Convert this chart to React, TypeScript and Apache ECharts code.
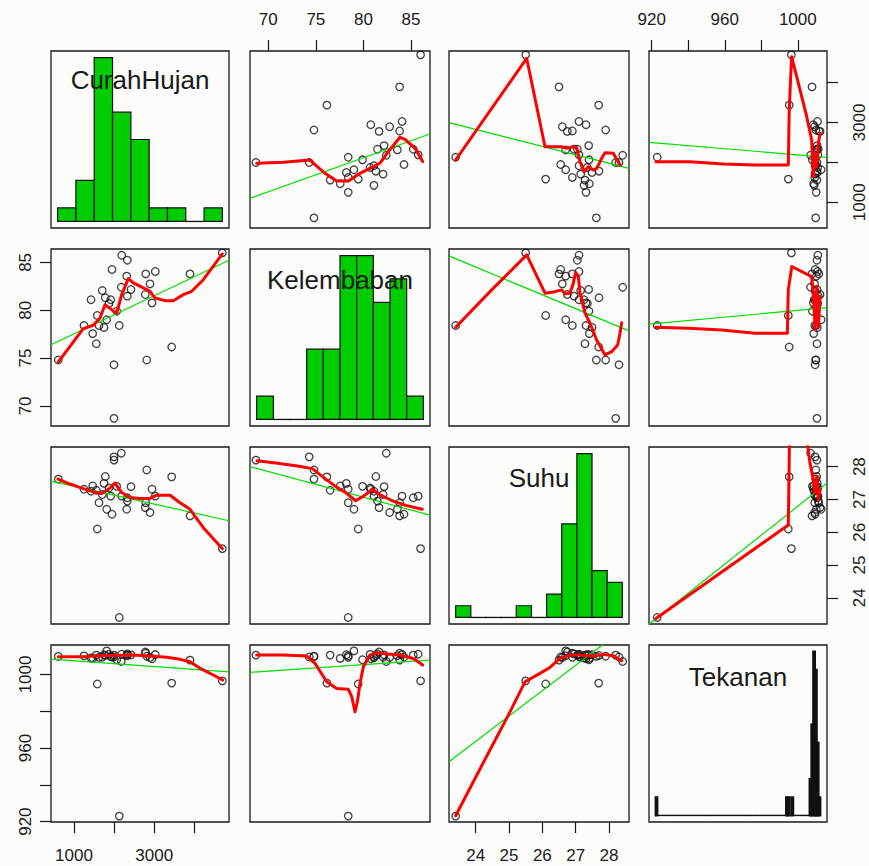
import React, { useEffect, useRef } from "react";
import * as echarts from "echarts";

// ---------------- data (33 observations) ----------------
const varNames = ["CurahHujan", "Kelembaban", "Suhu", "Tekanan"];

const CurahHujan = [608, 2189, 2329, 1947, 2314, 2788, 3027, 3893, 4698, 2895, 2179, 2421, 1705, 2329, 2778, 1424, 1780, 1915, 2945, 1873, 2065, 1581, 1815, 1249, 1623, 2129, 1748, 1466, 1556, 3436, 2813, 1997, 1997];
const Kelembaban = [74.8, 85.75, 85.23, 84.26, 83.56, 83.8, 84.05, 83.8, 86.0, 82.75, 82.4, 82.17, 82.06, 81.47, 81.64, 81.1, 81.3, 81.1, 80.77, 80.7, 79.9, 79.45, 79.0, 78.4, 78.4, 78.4, 78.2, 77.56, 76.5, 76.16, 74.8, 74.3, 68.7];
const Suhu = [27.62, 27.1, 27.05, 26.55, 26.7, 26.9, 27.1, 26.5, 25.5, 26.6, 28.41, 27.39, 27.15, 26.95, 26.75, 27.25, 27.7, 27.1, 27.31, 27.35, 27.4, 26.1, 26.7, 27.31, 26.9, 23.4, 27.49, 27.41, 27.28, 27.69, 27.9, 28.3, 28.2];
const Tekanan = [1009.8, 1011.0, 1010.5, 1009.5, 1010.2, 1011.5, 1010.8, 1007.8, 996.5, 1009.2, 1007.0, 1010.6, 1009.4, 1011.2, 1012.2, 1009.0, 1010.3, 1009.6, 1008.5, 1010.9, 1008.0, 994.8, 1012.8, 1010.1, 1009.3, 923.0, 1010.7, 1008.7, 1010.5, 995.3, 1009.9, 1009.5, 1010.5];

// histograms (breaks + counts)
const chHistBreaks = [500, 1000, 1500, 2000, 2500, 3000, 3500, 4000, 4500, 5000];
const chHistCounts = [1, 3, 12, 8, 6, 1, 1, 0, 1];
const kHistBreaks = [68, 70, 72, 74, 76, 78, 80, 82, 84, 86, 88];
const kHistCounts = [1, 0, 0, 3, 3, 7, 7, 5, 6, 1];
const sHistBreaks = [23, 23.5, 24, 24.5, 25, 25.5, 26, 26.5, 27, 27.5, 28, 28.5];
const sHistCounts = [1, 0, 0, 0, 1, 0, 2, 8, 14, 4, 3];
const tHistFirstBreak = 922;
const tHistLastBreak = 1013;
const tHistNonZero = [[922, 1], [994, 1], [995, 1], [997, 1], [1007, 2], [1008, 5], [1009, 9], [1010, 8], [1011, 4], [1012, 1]];

// axis ranges (x direction / y direction)
const xAxisRange = [[426, 4865], [68.08, 86.99], [23.2, 28.6], [918.5, 1016.0]];
const yAxisRange = [[355, 4794], [67.9, 86.4], [23.2, 28.6], [919.8, 1016.0]];

const tickValues = [[1000, 2000, 3000, 4000], [70, 75, 80, 85], [24, 25, 26, 27, 28], [920, 940, 960, 980, 1000]];
const labelValues = [[1000, 3000], [70, 75, 80, 85], [24, 25, 26, 27, 28], [920, 960, 1000]];

// smoother (red) lines, [x, y] per panel "row-col"
const smooth12 = [[68.78, 1978], [71.58, 2003], [74.38, 2060], [75.96, 1727], [77.18, 1534], [78.41, 1534], [79.63, 1727], [81.03, 1893], [81.73, 1978], [82.6, 2269], [83.84, 2630], [84.37, 2580], [85.42, 2354], [86.22, 2020]];
const smooth13 = [[23.4, 2060], [25.53, 4611], [26.08, 2394], [26.58, 2394], [26.73, 2352], [26.93, 2394], [27.03, 2352], [27.13, 2018], [27.25, 1767], [27.38, 1893], [27.53, 1810], [27.63, 1852], [27.78, 2103], [27.88, 2243], [28.13, 2227], [28.33, 1935]];
const smooth14 = [[922.3, 2018], [940.9, 2018], [959.2, 1960], [976.5, 1935], [994.8, 1935], [995.3, 3314], [996.6, 4651], [999.4, 4150], [1004.9, 3146], [1007.6, 2562], [1008.5, 1642], [1009.4, 2228], [1010.4, 1892], [1011.3, 2479], [1012.2, 2730]];
const smooth21 = [[608, 74.59], [900, 76.23], [1232, 78.07], [1481, 78.43], [1648, 79.19], [1773, 80.58], [1940, 80.06], [2064, 79.71], [2189, 81.63], [2354, 83.3], [2479, 82.85], [2728, 82.33], [2895, 81.98], [3020, 81.28], [3269, 81.0], [3477, 81.0], [3726, 81.63], [3935, 81.98], [4224, 83.19], [4698, 85.88]];
const smooth23 = [[23.4, 78.22], [24.48, 82.13], [25.53, 85.79], [26.08, 81.78], [26.38, 81.94], [26.58, 82.13], [26.68, 81.71], [26.83, 81.78], [26.93, 82.83], [27.0, 83.94], [27.08, 83.52], [27.13, 81.78], [27.28, 79.69], [27.43, 78.64], [27.63, 76.89], [27.88, 75.33], [28.08, 75.67], [28.26, 76.37], [28.33, 77.6], [28.38, 78.7]];
const smooth24 = [[922.3, 78.22], [940.0, 78.12], [958.3, 77.94], [976.6, 77.6], [994.3, 77.6], [994.8, 82.13], [996.7, 84.57], [1007.6, 83.52], [1008.6, 81.43], [1009.5, 77.94], [1010.4, 82.47], [1011.3, 78.29], [1012.2, 81.43]];
const smooth31 = [[601, 27.62], [900, 27.47], [1232, 27.33], [1481, 27.23], [1690, 27.18], [1856, 27.31], [2023, 27.5], [2189, 27.21], [2396, 27.06], [2645, 27.03], [2895, 27.03], [3062, 27.13], [3394, 27.13], [3643, 26.9], [3893, 26.7], [4225, 26.14], [4698, 25.5]];
const smooth32 = [[68.82, 28.18], [70.78, 28.11], [73.23, 28.01], [74.63, 27.94], [76.04, 27.62], [77.25, 27.36], [78.13, 27.21], [79.18, 26.96], [80.06, 27.11], [80.93, 27.31], [81.81, 27.13], [83.03, 26.96], [84.44, 26.82], [86.18, 26.7]];
const smooth34 = [[922.3, 23.37], [994.8, 26.22], [995.4, 28.6], [1000, 31], [1005.5, 28.6], [1006.7, 28.1], [1008.5, 27.6], [1009.4, 27.2], [1010.4, 27.7], [1011.3, 27.0], [1012.2, 27.3]];
const smooth41 = [[608, 1009.6], [1232, 1009.6], [1648, 1010.2], [2479, 1010.6], [2895, 1010.0], [3312, 1009.3], [3643, 1008.2], [3893, 1006.9], [4142, 1003.3], [4474, 999.7], [4708, 997.0]];
const smooth42 = [[68.78, 1010.5], [71.58, 1010.5], [74.04, 1010.0], [74.91, 1006.0], [76.14, 996.0], [77.19, 992.4], [78.41, 991.9], [78.77, 987.9], [79.11, 979.7], [79.36, 985.2], [79.64, 995.2], [79.99, 1004.2], [80.69, 1010.5], [81.4, 1011.8], [82.45, 1011.1], [83.84, 1010.5], [85.24, 1008.7], [86.22, 1005.1]];
const smooth43 = [[23.4, 923.2], [23.93, 941.7], [24.48, 960.7], [24.98, 977.9], [25.48, 996.0], [25.93, 1000.6], [26.23, 1003.8], [26.53, 1008.7], [26.83, 1010.5], [27.13, 1010.5], [27.43, 1010.0], [27.63, 1010.1], [27.83, 1010.9], [28.13, 1010.1], [28.38, 1007.4]];

// regression (green) lines, endpoints per panel
const reg12 = [[68.08, 1100], [86.99, 2713]];
const reg13 = [[23.2, 2996], [28.6, 1852]];
const reg14 = [[918.5, 2504], [1016, 2128]];
const reg21 = [[426, 76.4], [4865, 85.23]];
const reg23 = [[23.2, 85.68], [28.6, 77.84]];
const reg24 = [[918.5, 78.54], [1016, 80.27]];
const reg31 = [[426, 27.56], [4865, 26.35]];
const reg32 = [[68.08, 28.0], [86.99, 26.52]];
const reg34 = [[918.5, 23.19], [1016, 27.5]];
const reg41 = [[426, 1008.3], [4865, 1001.4]];
const reg42 = [[68.08, 1001.1], [86.99, 1007.8]];
const reg43 = [[23.2, 952.6], [28.6, 1027]];

// ---------------- layout ----------------
const colLeft = [51, 250, 449, 649];
const colWidth = [178, 180, 180, 178];
const rowTop = [51, 249, 447, 645];
const rowHeight = 177;
const nameOffset = [29, 31, 31, 31.5];

const INK = "#1a1a1a";
const FONT = "Liberation Sans";

function buildOption() {
  const vars = [CurahHujan, Kelembaban, Suhu, Tekanan];
  const tCounts: number[] = [];
  const tBreaks: number[] = [];
  for (let b = tHistFirstBreak; b <= tHistLastBreak; b++) tBreaks.push(b);
  for (let i = 0; i < tBreaks.length - 1; i++) {
    const hit = tHistNonZero.find((d) => d[0] === tBreaks[i]);
    tCounts.push(hit ? hit[1] : 0);
  }
  const hists = [
    { breaks: chHistBreaks, counts: chHistCounts },
    { breaks: kHistBreaks, counts: kHistCounts },
    { breaks: sHistBreaks, counts: sHistCounts },
    { breaks: tBreaks, counts: tCounts },
  ];
  const smooth: Record<string, number[][]> = {
    "0-1": smooth12, "0-2": smooth13, "0-3": smooth14,
    "1-0": smooth21, "1-2": smooth23, "1-3": smooth24,
    "2-0": smooth31, "2-1": smooth32, "2-3": smooth34,
    "3-0": smooth41, "3-1": smooth42, "3-2": smooth43,
  };
  const reg: Record<string, number[][]> = {
    "0-1": reg12, "0-2": reg13, "0-3": reg14,
    "1-0": reg21, "1-2": reg23, "1-3": reg24,
    "2-0": reg31, "2-1": reg32, "2-3": reg34,
    "3-0": reg41, "3-1": reg42, "3-2": reg43,
  };

  const grids: any[] = [];
  const xAxes: any[] = [];
  const yAxes: any[] = [];
  const series: any[] = [];
  const fmt = (v: number) => String(v);

  for (let r = 0; r < 4; r++) {
    for (let c = 0; c < 4; c++) {
      const g = r * 4 + c;
      grids.push({
        left: colLeft[c], top: rowTop[r], width: colWidth[c], height: rowHeight,
        show: true, borderColor: INK, borderWidth: 1.3, backgroundColor: "rgba(0,0,0,0)",
      });
      if (r === c) {
        const { breaks, counts } = hists[r];
        const span = breaks[breaks.length - 1] - breaks[0];
        const maxC = Math.max(...counts);
        const narrow = breaks.length > 40;
        xAxes.push({ gridIndex: g, type: "value", show: false, min: breaks[0] - 0.04 * span, max: breaks[breaks.length - 1] + 0.04 * span });
        yAxes.push({ gridIndex: g, type: "value", show: false, min: -0.04 * maxC, max: 1.04 * maxC });
        series.push({
          type: "custom", xAxisIndex: g, yAxisIndex: g,
          data: counts.map((n, i) => [breaks[i], breaks[i + 1], n]),
          encode: { x: [0, 1], y: 2 },
          renderItem: (params: any, api: any) => {
            const p0 = api.coord([api.value(0), api.value(2)]);
            const p1 = api.coord([api.value(1), 0]);
            if (api.value(2) === 0) {
              return { type: "line", shape: { x1: p0[0] - 0.5, y1: p1[1], x2: p1[0] + 0.5, y2: p1[1] }, style: { stroke: "#111", lineWidth: 1.3 } };
            }
            return {
              type: "rect",
              shape: { x: p0[0], y: p0[1], width: p1[0] - p0[0], height: p1[1] - p0[1] },
              style: { fill: "#00cd00", stroke: "#111", lineWidth: narrow ? 2 : 1.2 },
            };
          },
        });
        continue;
      }
      const showTop = r === 0 && (c === 1 || c === 3);
      const showBottom = r === 3 && (c === 0 || c === 2);
      const showLeft = c === 0 && (r === 1 || r === 3);
      const showRight = c === 3 && (r === 0 || r === 2);
      const showX = showTop || showBottom;
      const showY = showLeft || showRight;
      xAxes.push({
        gridIndex: g, type: "value", show: showX,
        min: xAxisRange[c][0], max: xAxisRange[c][1],
        position: r === 0 ? "top" : "bottom",
        axisLine: { show: false }, splitLine: { show: false },
        axisTick: { show: showX, length: 11, customValues: tickValues[c], lineStyle: { color: INK, width: 1.2 } },
        axisLabel: { show: showX, customValues: labelValues[c], formatter: fmt, margin: showTop ? 23 : 25, fontSize: 17, fontFamily: FONT, color: INK },
      });
      yAxes.push({
        gridIndex: g, type: "value", show: showY,
        min: yAxisRange[r][0], max: yAxisRange[r][1],
        position: c === 0 ? "left" : "right",
        axisLine: { show: false }, splitLine: { show: false },
        axisTick: { show: showY, length: 11, customValues: tickValues[r], lineStyle: { color: INK, width: 1.2 } },
        axisLabel: { show: showY, customValues: labelValues[r], formatter: fmt, rotate: 90, margin: showLeft ? 17 : 24, fontSize: 17, fontFamily: FONT, color: INK },
      });
      const key = r + "-" + c;
      series.push({
        type: "scatter", xAxisIndex: g, yAxisIndex: g,
        data: vars[c].map((v, i) => [v, vars[r][i]]),
        symbol: "circle", symbolSize: 7.5,
        itemStyle: { color: "rgba(0,0,0,0)", borderColor: "#111", borderWidth: 1.3 },
        silent: true,
      });
      series.push({
        type: "line", xAxisIndex: g, yAxisIndex: g, data: reg[key],
        showSymbol: false, symbol: "none", clip: true, silent: true,
        lineStyle: { color: "#00dd00", width: 1.2 },
      });
      series.push({
        type: "line", xAxisIndex: g, yAxisIndex: g, data: smooth[key],
        showSymbol: false, symbol: "none", clip: true, silent: true,
        lineStyle: { color: "#ff0000", width: 3, cap: "round", join: "round" },
      });
    }
  }

  const graphic = varNames.map((name, i) => ({
    type: "text", z: 100,
    x: colLeft[i] + colWidth[i] / 2, y: rowTop[i] + nameOffset[i],
    style: { text: name, fontSize: 26, fontFamily: FONT, fill: INK, align: "center", verticalAlign: "middle" },
  }));

  return {
    animation: false,
    backgroundColor: "#fcfcfa",
    grid: grids, xAxis: xAxes, yAxis: yAxes, series, graphic,
  };
}

export default function App() {
  const ref = useRef<HTMLDivElement>(null);
  useEffect(() => {
    if (!ref.current) return;
    const chart = echarts.init(ref.current, null, { renderer: "svg" });
    chart.setOption(buildOption() as any);
    return () => chart.dispose();
  }, []);
  return (
    <div
      ref={ref}
      style={{ position: "fixed", left: 0, top: 0, width: 869, height: 866, background: "#fcfcfa" }}
    />
  );
}
